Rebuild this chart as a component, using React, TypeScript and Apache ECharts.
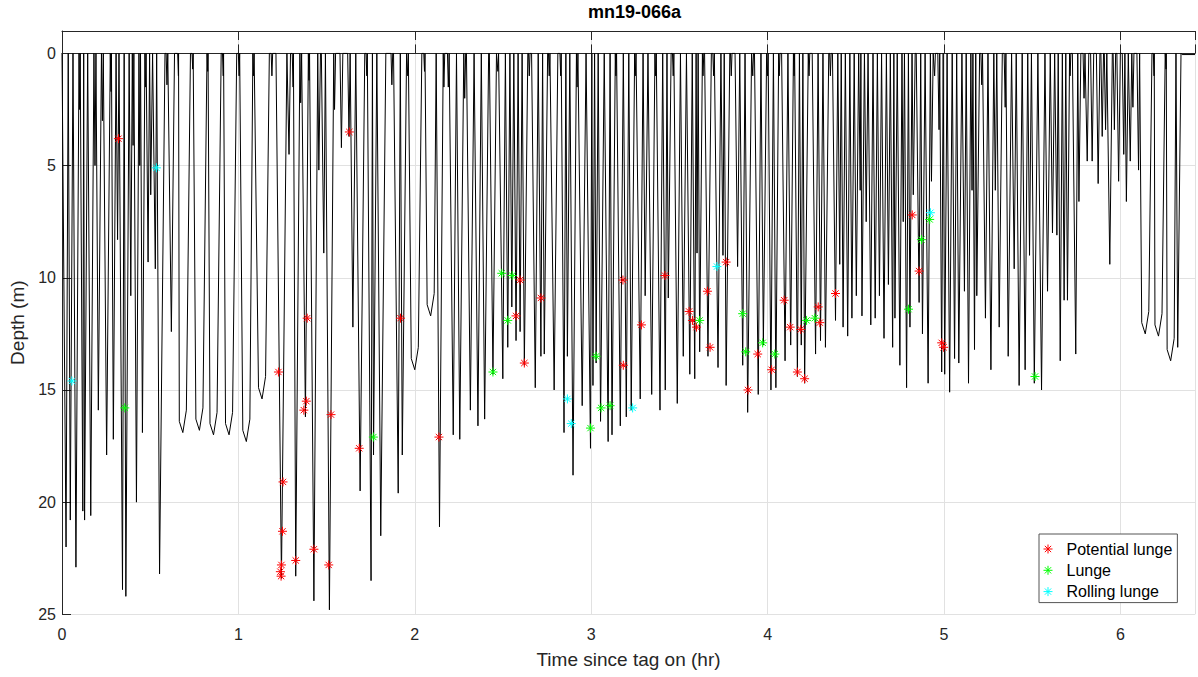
import React, { useEffect, useRef } from "react";
import * as echarts from "echarts";

const chartTitle = "mn19-066a";
const xAxisName = "Time since tag on (hr)";
const yAxisName = "Depth (m)";
const seriesNames = ["Potential lunge", "Lunge", "Rolling lunge"];

// Dives: [time of deepest point (hr), max depth (m)]
const divesA = [
  [0.023, 22.0], [0.047, 20.8], [0.079, 22.9], [0.100, 2.5], [0.118, 20.4], [0.128, 20.8],
  [0.163, 20.6], [0.187, 5.0], [0.206, 15.9], [0.229, 3.0], [0.253, 17.9], [0.278, 1.7],
  [0.291, 17.2], [0.315, 8.3], [0.343, 23.9], [0.362, 24.2], [0.390, 10.8], [0.403, 4.1],
  [0.422, 20.0], [0.441, 5.0], [0.456, 16.9], [0.473, 1.5], [0.488, 9.3], [0.503, 6.3],
  [0.529, 9.6], [0.553, 23.2], [0.595, 1.4], [0.620, 12.4], [0.660, 1.0], [0.741, 0.7],
  [0.826, 0.8], [0.914, 1.0], [1.004, 1.0], [1.085, 1.0],
];
const divesB = [
  [1.190, 1.0], [1.244, 23.4], [1.287, 4.5], [1.310, 1.5], [1.325, 23.3], [1.353, 2.2],
  [1.380, 16.2], [1.400, 1.2], [1.428, 24.4], [1.456, 5.2], [1.484, 8.9], [1.516, 24.8],
  [1.545, 2.5], [1.584, 4.2], [1.627, 3.7], [1.649, 12.2], [1.690, 19.5], [1.728, 1.0],
  [1.752, 23.5], [1.766, 17.9], [1.807, 21.5], [1.870, 1.4], [1.906, 19.6], [1.929, 17.9],
  [1.960, 1.0], [2.055, 0.8], [2.140, 21.1], [2.165, 1.5],
];
const divesC = [
  [2.190, 1.5], [2.218, 17.0], [2.255, 17.2], [2.283, 2.0], [2.315, 15.9], [2.358, 16.6],
  [2.396, 16.3], [2.443, 14.3], [2.471, 0.8], [2.499, 14.5], [2.527, 13.1], [2.550, 11.3],
  [2.574, 12.8], [2.597, 12.4], [2.621, 13.9], [2.649, 1.0], [2.683, 14.9], [2.715, 13.5],
  [2.734, 13.4], [2.762, 1.0], [2.790, 15.0], [2.827, 1.0], [2.846, 16.9], [2.865, 13.5],
  [2.897, 18.8], [2.920, 1.5], [2.949, 15.7], [2.996, 17.6], [3.010, 14.8], [3.028, 13.8],
  [3.053, 16.4], [3.096, 17.3], [3.118, 17.0], [3.140, 1.0], [3.165, 16.6], [3.199, 16.2],
  [3.227, 15.9], [3.250, 1.0], [3.278, 15.4],
];
const divesD = [
  [3.306, 10.8], [3.343, 15.2], [3.365, 1.0], [3.390, 15.9], [3.420, 15.0], [3.437, 10.9],
  [3.465, 1.0], [3.488, 15.6], [3.522, 13.5], [3.559, 14.3], [3.587, 14.5], [3.600, 8.9],
  [3.615, 13.3], [3.634, 1.0], [3.662, 13.5], [3.694, 1.0], [3.719, 14.0], [3.747, 9.0],
  [3.765, 14.8], [3.794, 1.0], [3.830, 9.5], [3.859, 13.9], [3.887, 16.0], [3.916, 1.0],
  [3.947, 15.2], [3.976, 13.0], [4.000, 1.0], [4.019, 15.0], [4.047, 14.9], [4.066, 1.0],
  [4.099, 13.7], [4.131, 13.0], [4.150, 1.0], [4.169, 14.4], [4.191, 13.0], [4.210, 14.7],
  [4.235, 1.0], [4.272, 13.4], [4.300, 12.8], [4.328, 13.1], [4.356, 1.0],
];
const divesE = [
  [4.385, 11.9], [4.409, 9.4], [4.428, 12.2], [4.454, 12.6], [4.478, 11.8], [4.503, 10.8],
  [4.525, 6.1], [4.535, 11.7], [4.559, 7.5], [4.585, 12.1], [4.610, 11.8], [4.634, 10.8],
  [4.660, 12.7], [4.685, 10.3], [4.709, 13.1], [4.722, 11.8], [4.750, 13.9], [4.769, 7.5],
  [4.788, 14.9], [4.807, 12.2], [4.826, 6.3], [4.859, 11.1], [4.878, 12.5], [4.910, 14.7],
  [4.929, 5.7], [4.947, 1.0], [4.972, 3.4], [4.987, 14.2], [5.004, 14.3], [5.032, 15.1],
  [5.060, 13.6], [5.084, 13.8], [5.116, 10.6], [5.139, 14.7], [5.159, 6.1], [5.173, 13.2],
  [5.186, 10.8], [5.214, 1.4], [5.235, 11.8], [5.266, 14.1], [5.291, 6.1], [5.313, 12.2],
  [5.347, 2.4], [5.364, 13.5], [5.398, 9.6], [5.426, 14.8], [5.460, 14.1], [5.485, 9.0],
];
const divesF = [
  [5.512, 14.7], [5.553, 15.0], [5.587, 10.6], [5.615, 8.0], [5.640, 8.1], [5.659, 13.7],
  [5.681, 11.0], [5.700, 11.0], [5.715, 1.0], [5.747, 13.4], [5.765, 6.6], [5.794, 2.0],
  [5.812, 4.8], [5.840, 4.8], [5.874, 5.8], [5.897, 3.7], [5.916, 3.4], [5.940, 9.4],
  [5.966, 3.4], [5.990, 5.7], [6.019, 4.5], [6.034, 6.6], [6.056, 4.8], [6.071, 2.4],
  [6.103, 5.2], [6.191, 1.0], [6.259, 0.7], [6.325, 13.1],
];
// Dives with a rounded, flat-ish bottom: [time (hr), max depth (m)]
const roundBottomDives = [
  [0.685, 16.9], [0.779, 16.8], [0.859, 17.0], [0.947, 17.0], [1.045, 17.3], [1.134, 15.4],
  [2.000, 14.1], [2.090, 11.7], [6.141, 12.5], [6.216, 12.6], [6.285, 13.7],
];
// Final surface period: [time (hr), depth (m)]
const surfaceEnd = [[6.350, 0.05], [6.423, 0.05]];

const potentialLunges = [
  [0.320, 3.8], [1.227, 14.2], [1.238, 23.1], [1.242, 23.3], [1.244, 22.8], [1.250, 21.3],
  [1.253, 19.1], [1.325, 22.6], [1.371, 15.9], [1.385, 15.5], [1.390, 11.8], [1.428, 22.1],
  [1.512, 22.8], [1.525, 16.1], [1.629, 3.5], [1.685, 17.6], [1.919, 11.8], [2.137, 17.1],
  [2.574, 11.7], [2.597, 10.1], [2.621, 13.8], [2.715, 10.9], [3.180, 10.1], [3.182, 13.9],
  [3.285, 12.1], [3.418, 9.9], [3.555, 11.5], [3.574, 11.9], [3.597, 12.2], [3.659, 10.6],
  [3.674, 13.1], [3.765, 9.3], [3.889, 15.0], [3.944, 13.4], [4.023, 14.1], [4.094, 11.0],
  [4.128, 12.2], [4.169, 14.2], [4.188, 12.3], [4.210, 14.5], [4.287, 11.3], [4.296, 12.0],
  [4.385, 10.7], [4.820, 7.2], [4.859, 9.7], [4.987, 12.9], [4.998, 13.1],
];
const lunges = [
  [0.356, 15.8], [1.765, 17.1], [2.443, 14.2], [2.493, 9.8], [2.527, 11.9], [2.552, 9.9],
  [2.996, 16.7], [3.028, 13.5], [3.056, 15.8], [3.107, 15.7], [3.615, 11.9], [3.859, 11.6],
  [3.876, 13.3], [3.972, 12.9], [4.041, 13.4], [4.221, 11.9], [4.268, 11.8], [4.799, 11.4],
  [4.872, 8.3], [4.919, 7.4], [5.516, 14.4],
];
const rollingLunges = [
  [0.056, 14.6], [0.535, 5.1], [2.865, 15.4], [2.887, 16.5], [3.235, 15.8], [3.713, 9.5],
  [4.923, 7.1],
];

const DESCENT_HR_PER_M = 0.0012;
const ROUND_BOTTOM_HR = 0.02;

function buildProfile(): number[][] {
  const dives = [
    ...[...divesA, ...divesB, ...divesC, ...divesD, ...divesE, ...divesF].map(([t, d]) => ({ t, d, round: false })),
    ...roundBottomDives.map(([t, d]) => ({ t, d, round: true })),
  ]
    .sort((a, b) => a.t - b.t)
    .map((dv) => ({ ...dv, b: dv.round ? ROUND_BOTTOM_HR : 0, h: DESCENT_HR_PER_M * dv.d + 0.003 }));
  const pts: number[][] = [[0, 0]];
  let lastEnd = 0;
  dives.forEach((dv, i) => {
    const start = Math.max(dv.t - dv.b - dv.h, lastEnd);
    let end = dv.t + dv.b + dv.h;
    if (i < dives.length - 1) {
      const nx = dives[i + 1];
      const gap = nx.t - nx.b - (dv.t + dv.b);
      if (end > nx.t - nx.b - nx.h) {
        end = Math.min(end, dv.t + dv.b + (gap * dv.h) / (dv.h + nx.h));
      }
    } else {
      end = Math.min(end, surfaceEnd[0][0]);
    }
    pts.push([start, 0]);
    if (dv.round) {
      pts.push([dv.t - dv.b, dv.d - 0.5]);
      pts.push([dv.t, dv.d]);
      pts.push([dv.t + dv.b, dv.d - 1.0]);
    } else {
      pts.push([dv.t, dv.d]);
    }
    pts.push([end, 0]);
    lastEnd = end;
  });
  surfaceEnd.forEach((p) => pts.push(p));
  return pts;
}

const FONT = "'Liberation Sans', Arial, Helvetica, sans-serif";
const AXIS_COLOR = "#262626";
const ASTERISK = "path://M5,0L5,10M0,5L10,5M1.5,1.5L8.5,8.5M1.5,8.5L8.5,1.5";

export default function App() {
  const ref = useRef<HTMLDivElement>(null);
  useEffect(() => {
    if (!ref.current) return;
    const chart = echarts.init(ref.current, undefined, { renderer: "svg" });
    const markerSeries = (name: string, data: number[][], color: string) => ({
      name,
      type: "scatter",
      data,
      symbol: ASTERISK,
      symbolSize: 9,
      itemStyle: { color, borderColor: color, borderWidth: 1, opacity: 1 },
      z: 5,
      silent: true,
    });
    chart.setOption({
      animation: false,
      backgroundColor: "#ffffff",
      title: {
        text: chartTitle,
        left: 588,
        top: 3,
        padding: 0,
        textStyle: { fontSize: 18, fontWeight: "bold", color: "#000", fontFamily: FONT },
      },
      grid: { left: 58.5, top: 31, right: 0, bottom: 62.7 },
      legend: {
        orient: "vertical",
        left: 1039,
        top: 534,
        padding: [7, 5, 3, 4],
        itemWidth: 27,
        itemHeight: 9,
        itemGap: 5.3,
        borderColor: "#555",
        borderWidth: 1,
        backgroundColor: "#fff",
        data: seriesNames,
        itemStyle: { borderWidth: 1 },
        textStyle: { fontSize: 16, lineHeight: 16, color: "#000", fontFamily: FONT },
      },
      xAxis: [
        {
          type: "value",
          position: "bottom",
          min: 0,
          max: 6.423,
          interval: 1,
          name: xAxisName,
          nameLocation: "middle",
          nameGap: 36,
          nameTextStyle: { fontSize: 19, color: AXIS_COLOR, fontFamily: FONT },
          axisLine: { show: true, lineStyle: { color: AXIS_COLOR, width: 1 } },
          axisTick: { show: true, inside: true, length: 9, lineStyle: { color: AXIS_COLOR } },
          axisLabel: {
            fontSize: 16,
            color: AXIS_COLOR,
            fontFamily: FONT,
            margin: 12,
            formatter: (v: number) => (Math.abs(v - Math.round(v)) < 1e-6 ? String(Math.round(v)) : ""),
          },
          splitLine: { show: true, lineStyle: { color: "#e1e1e1", width: 1 } },
        },
        {
          type: "value",
          position: "top",
          min: 0,
          max: 6.423,
          interval: 1,
          axisLine: { show: true, lineStyle: { color: AXIS_COLOR, width: 1 } },
          axisTick: { show: true, inside: true, length: 9, lineStyle: { color: AXIS_COLOR } },
          axisLabel: { show: false },
          splitLine: { show: false },
        },
      ],
      yAxis: {
        type: "value",
        inverse: true,
        min: -1,
        max: 25,
        name: yAxisName,
        nameLocation: "middle",
        nameGap: 35,
        nameTextStyle: { fontSize: 19, color: AXIS_COLOR, fontFamily: FONT },
        axisLine: { show: true, lineStyle: { color: AXIS_COLOR, width: 1 } },
        axisTick: { show: true, inside: true, length: 9, lineStyle: { color: AXIS_COLOR } },
        axisLabel: {
          fontSize: 16,
          color: AXIS_COLOR,
          fontFamily: FONT,
          margin: 6,
          formatter: (v: number) => (v < -0.5 ? "" : String(Math.round(v))),
        },
        splitLine: { show: true, lineStyle: { color: "#e1e1e1", width: 1 } },
      },
      series: [
        {
          name: "Depth",
          type: "line",
          xAxisIndex: 0,
          yAxisIndex: 0,
          data: buildProfile(),
          showSymbol: false,
          symbol: "none",
          lineStyle: { color: "#000", width: 1 },
          silent: true,
          z: 2,
        },
        markerSeries(seriesNames[0], potentialLunges, "#ff0000"),
        markerSeries(seriesNames[1], lunges, "#00ff00"),
        markerSeries(seriesNames[2], rollingLunges, "#00ffff"),
      ],
    });
    return () => chart.dispose();
  }, []);
  return (
    <div
      ref={ref}
      style={{ position: "fixed", left: 0, top: 0, width: 1198, height: 677, background: "#fff" }}
    />
  );
}
